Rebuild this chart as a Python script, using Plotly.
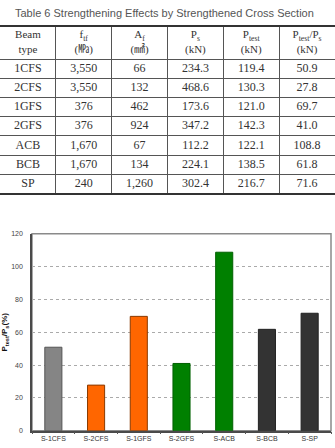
import plotly.graph_objects as go

# ---- data ----
beam_types = ["1CFS", "2CFS", "1GFS", "2GFS", "ACB", "BCB", "SP"]
f_tf = ["3,550", "3,550", "376", "376", "1,670", "1,670", "240"]
a_f = ["66", "132", "462", "924", "67", "134", "1,260"]
p_s = ["234.3", "468.6", "173.6", "347.2", "112.2", "224.1", "302.4"]
p_test = ["119.4", "130.3", "121.0", "142.3", "122.1", "138.5", "216.7"]
ratio = [50.9, 27.8, 69.7, 41.0, 108.8, 61.8, 71.6]
headers = ["Beam<br>type", "f<sub>tf</sub><br>(㎫)", "A<sub>f</sub><br>(㎟)",
           "P<sub>s</sub><br>(kN)", "P<sub>test</sub><br>(kN)",
           "P<sub>test</sub>/P<sub>s</sub><br>(kN)"]
bar_labels = ["S-1CFS", "S-2CFS", "S-1GFS", "S-2GFS", "S-ACB", "S-BCB", "S-SP"]
bar_colors = ["#858585", "#ff6600", "#ff6600", "#008000", "#008000", "#333333", "#333333"]
bar_edges = ["#555555", "#8a3a00", "#8a3a00", "#006000", "#006000", "#222222", "#222222"]
y_ticks = [0, 20, 40, 60, 80, 100, 120]

W, H = 335, 448
HEAD_H, ROW_H = 33, 19.5
columns = [beam_types, f_tf, a_f, p_s, p_test, [f"{v:.1f}" for v in ratio]]
n_cols, n_rows = len(columns), len(beam_types)
table_h = HEAD_H + ROW_H * n_rows

fig = go.Figure()
serif = "Liberation Serif, Noto Sans CJK KR, serif"
sans = "Liberation Sans, Arial, sans-serif"

# table header and cells as text on their own axes
fig.add_trace(go.Scatter(
    x=list(range(n_cols)), y=[HEAD_H / 2] * n_cols, text=headers,
    mode="text", textposition="middle center",
    textfont=dict(family=serif, size=11, color="#333333"),
    xaxis="x2", yaxis="y2", hoverinfo="skip", showlegend=False))
cx, cy, ct = [], [], []
for ci, col in enumerate(columns):
    for ri, val in enumerate(col):
        cx.append(ci)
        cy.append(HEAD_H + ROW_H * (ri + 0.5))
        ct.append(val)
fig.add_trace(go.Scatter(
    x=cx, y=cy, text=ct, mode="text", textposition="middle center",
    textfont=dict(family=serif, size=12, color="#333333"),
    xaxis="x2", yaxis="y2", hoverinfo="skip", showlegend=False))

# bar chart
fig.add_trace(go.Bar(
    x=bar_labels, y=ratio, width=0.4,
    marker=dict(color=bar_colors, line=dict(color=bar_edges, width=1)),
    xaxis="x", yaxis="y", showlegend=False, hoverinfo="skip"))

fig.update_layout(
    width=W, height=H,
    margin=dict(l=0, r=0, t=0, b=0),
    paper_bgcolor="white", plot_bgcolor="white",
    showlegend=False, hovermode=False,
    xaxis=dict(domain=[32 / W, 331 / W], anchor="y",
               showline=True, linecolor="#4a4a4a", linewidth=1.5,
               ticks="outside", ticklen=2, tickcolor="#555555", tickson="boundaries",
               tickfont=dict(family=sans, size=7, color="#333333"),
               showgrid=False, fixedrange=True),
    yaxis=dict(domain=[1 - 433.5 / H, 1 - 233.5 / H], anchor="x",
               range=[0, 120], tickvals=y_ticks,
               showline=True, linecolor="#4a4a4a", linewidth=1.5,
               ticks="", ticklabelstandoff=6,
               tickfont=dict(family=sans, size=7, color="#444444"),
               showgrid=True, gridcolor="#aaaaaa", griddash="dot", gridwidth=1,
               zeroline=False,
               title=dict(text="<b>P<sub>test</sub>/P<sub>s</sub>(%)</b>", standoff=4,
                          font=dict(family=sans, size=8, color="#111111"))),
    xaxis2=dict(domain=[0, 1], anchor="y2", range=[-0.5, n_cols - 0.5],
                tickmode="array", tickvals=[i + 0.5 for i in range(n_cols - 1)],
                ticktext=[""] * (n_cols - 1), showticklabels=False,
                ticks="", showgrid=True, gridcolor="#555555", gridwidth=1,
                zeroline=False, showline=True, mirror=True,
                linecolor="#333333", linewidth=2, fixedrange=True),
    yaxis2=dict(domain=[1 - (23 + table_h) / H, 1 - 23 / H], anchor="x2",
                range=[table_h, 0], tickmode="array",
                tickvals=[HEAD_H + ROW_H * i for i in range(n_rows)],
                ticktext=[""] * n_rows,
                showticklabels=False, ticks="", showgrid=True,
                gridcolor="#555555", gridwidth=1, zeroline=False,
                showline=False, fixedrange=True),
    shapes=[dict(type="rect", xref="x domain", yref="y domain", x0=0, x1=1, y0=0, y1=1,
                 line=dict(color="#8a8a8a", width=1.5), layer="below")],
    annotations=[dict(text="Table 6 Strengthening Effects by Strengthened Cross Section",
                      xref="paper", yref="paper", x=0.49, y=1 - 9 / H,
                      xanchor="center", yanchor="middle", showarrow=False,
                      font=dict(family=sans, size=11, color="#555555"))],
)

fig.write_html("out.html")
